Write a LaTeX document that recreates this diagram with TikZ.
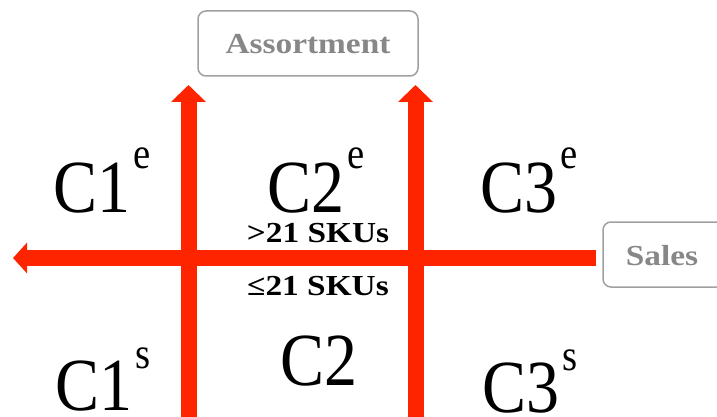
\documentclass[tikz,border=0pt]{standalone}
\usepackage{fontspec}
\setmainfont{Liberation Serif}
\newfontfamily\bigfont[FakeStretch=0.88]{Liberation Serif}
\newfontfamily\lblfont[FakeStretch=1.15]{Liberation Serif}
\usetikzlibrary{arrows.meta}
\definecolor{barred}{RGB}{255,36,0}
\definecolor{boxgray}{RGB}{160,160,160}
\definecolor{txtgray}{RGB}{135,135,135}
\newcommand{\supx}[2]{\kern3.5pt\raisebox{#1pt}{\fontsize{44}{44}\selectfont #2}}
\tikzset{
  bar/.style={line width=16pt, draw=barred},
  vhead/.style={-{Triangle[width=34pt,length=17pt]}},
  hhead/.style={-{Triangle[width=30pt,length=14pt]}},
  cell/.style={anchor=base west, inner sep=0pt, text depth=0pt, font=\bigfont\fontsize{75}{75}\selectfont},
  sku/.style={inner sep=0pt, font=\lblfont\bfseries\fontsize{29}{29}\selectfont},
  lbox/.style={draw=boxgray, line width=1.5pt, rounded corners=8pt},
  ltext/.style={inner sep=0pt, text=txtgray, font=\lblfont\bfseries\fontsize{29}{29}\selectfont}
}
\begin{document}
\begin{tikzpicture}[x=1pt,y=-1pt]
\useasboundingbox (0,0) rectangle (717,417);
% arrows
\coordinate (v1b) at (188.5,420);
\coordinate (v1t) at (188.5,85);
\coordinate (v2b) at (415.5,420);
\coordinate (v2t) at (415.5,85);
\coordinate (hr) at (596,258);
\coordinate (hl) at (13,258);
\draw[bar,hhead] (hr) -- (hl);
\draw[bar,vhead] (v1b) -- (v1t);
\draw[bar,vhead] (v2b) -- (v2t);
% label boxes
\draw[lbox] (198,11) rectangle (418,76);
\node[ltext] (assort) at (308,44) {Assortment};
\draw[lbox] (603,222) rectangle (727,287);
\node[ltext] (sales) at (662,256) {Sales};
% cells
\node[cell] (c1e) at (53,212) {C1\supx{44}{e}};
\node[cell] (c2e) at (267,212) {C2\supx{44}{e}};
\node[cell] (c3e) at (480,212) {C3\supx{44}{e}};
\node[cell] (c1s) at (55,410) {C1\supx{42}{s}};
\node[cell] (c2) at (280,385) {C2};
\node[cell] (c3s) at (482,412) {C3\supx{42}{s}};
% sku labels
\node[sku] (gt) at (318,233) {>21 SKUs};
\node[sku] (le) at (318,286) {≤21 SKUs};
\end{tikzpicture}
\end{document}
